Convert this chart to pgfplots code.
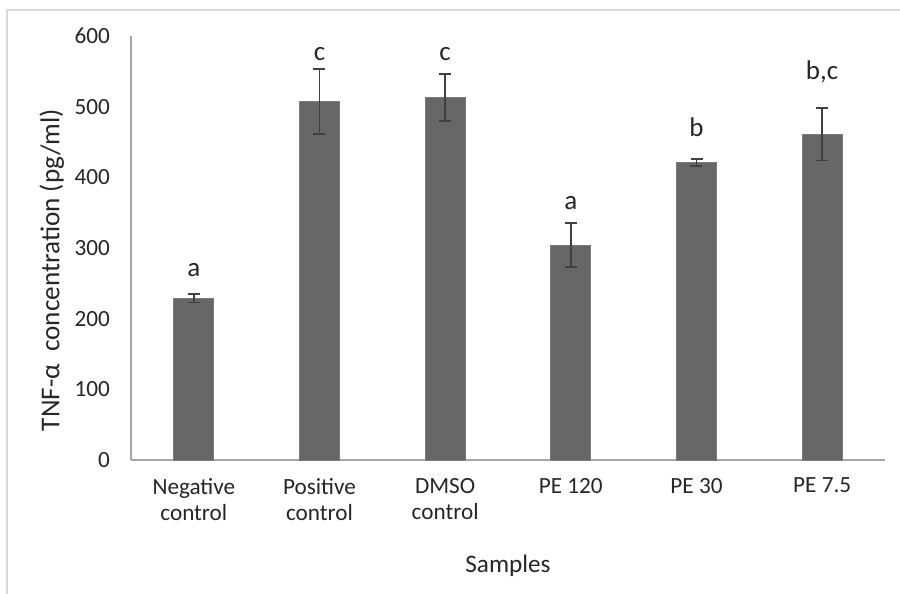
\documentclass[border=0pt]{standalone}
\usepackage{fontspec}
\setmainfont{Carlito}
\usepackage{pgfplots}
\pgfplotsset{compat=1.18}
\definecolor{barfill}{HTML}{676767}
\definecolor{baredge}{HTML}{7A7A7A}
\definecolor{errcol}{HTML}{404040}
\definecolor{axcol}{HTML}{A6A6A6}
\definecolor{framecol}{HTML}{D9D9D9}
\definecolor{txt}{HTML}{262626}
\begin{document}
\begin{tikzpicture}[x=1pt,y=1pt]
\clip (0,0) rectangle (450,297);
\draw[framecol, line width=0.8pt] (3.5,-5) -- (3.5,292) -- (460,292);
\begin{axis}[
  at={(65.5pt,67pt)}, anchor=south west,
  scale only axis, width=377pt, height=212pt,
  xmin=-0.5, xmax=5.5, ymin=0, ymax=600,
  ytick={0,100,200,300,400,500,600},
  xtick={0,1,2,3,4,5},
  xticklabels={Negative\\control, Positive\\control, DMSO\\control, PE 120, PE 30, PE 7.5},
  axis x line*=bottom, axis y line*=left,
  axis line style={axcol, line width=0.8pt},
  major tick length=0pt,
  tick style={draw=none},
  /pgf/number format/assume math mode=true,
  every tick label/.append style={font=\fontsize{11.6}{13.4}\selectfont, text=txt},
  xticklabel style={align=center, yshift=-5.5pt},
  yticklabel style={xshift=-7pt},
  xlabel={Samples},
  ylabel={TNF-α\ \ concentration (pg/ml)},
  xlabel style={font=\fontsize{12.6}{15}\selectfont, text=txt, at={(rel axis cs:0.5,-0.25)}, anchor=center},
  ylabel style={font=\fontsize{13.6}{16}\selectfont, text=txt, at={(rel axis cs:-0.105,0.448)}, anchor=center},
  clip=false,
]
\addplot[ybar, bar width=20pt, fill=barfill, draw=baredge, line width=0.4pt,
  error bars/.cd, y dir=both, y explicit,
  error bar style={errcol, line width=0.8pt},
  error mark options={rotate=90, mark size=3pt, errcol, line width=0.8pt}]
  coordinates {
  (0,229) +- (0,6)
  (1,507) +- (0,46)
  (2,513) +- (0,33)
  (3,304) +- (0,31)
  (4,421) +- (0,5)
  (5,461) +- (0,37)
  };
\begin{scope}[every node/.style={anchor=base, font=\fontsize{13.5}{16}\selectfont, text=txt}]
\node at (axis cs:0,259) {a};
\node at (axis cs:1,566) {c};
\node at (axis cs:2,566) {c};
\node at (axis cs:3,355) {a};
\node at (axis cs:4,457.5) {b};
\node at (axis cs:5,538) {b,c};
\end{scope}
\end{axis}
\end{tikzpicture}
\end{document}
